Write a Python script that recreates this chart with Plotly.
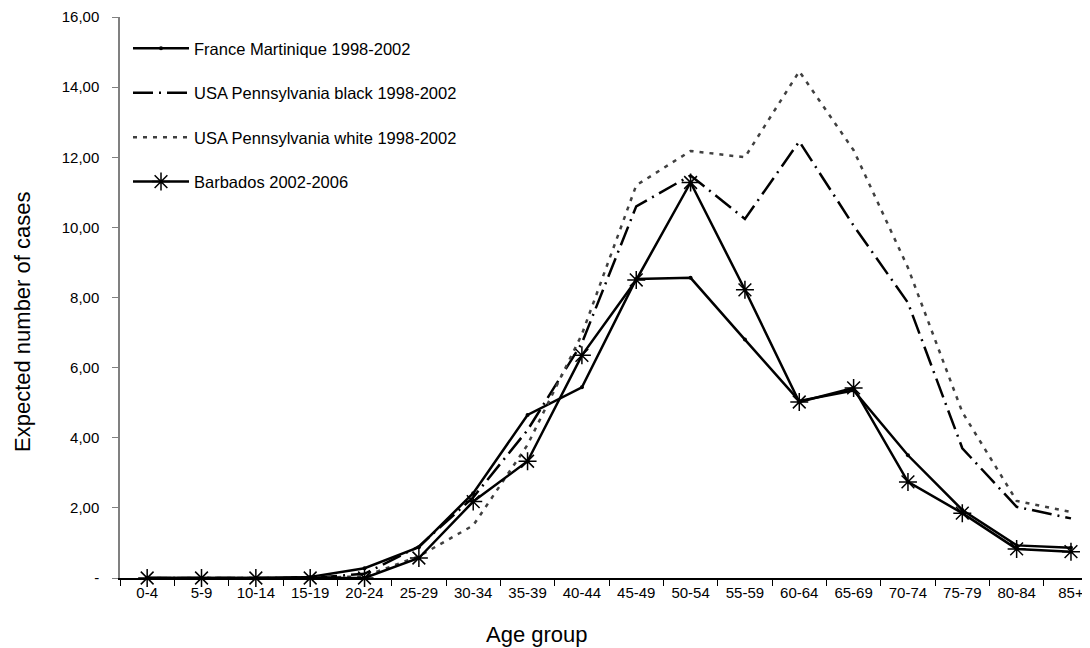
import plotly.graph_objects as go

age_groups = ["0-4", "5-9", "10-14", "15-19", "20-24", "25-29", "30-34", "35-39", "40-44",
              "45-49", "50-54", "55-59", "60-64", "65-69", "70-74", "75-79", "80-84", "85+"]

france_martinique = [0, 0, 0, 0.03, 0.28, 0.88, 2.42, 4.65, 5.44, 8.53, 8.56, 6.80, 5.05, 5.35, 3.50, 1.94, 0.93, 0.86]
penn_black = [0, 0, 0, 0, 0.12, 0.90, 2.30, 4.22, 6.70, 10.60, 11.48, 10.24, 12.45, 10.05, 7.85, 3.70, 2.03, 1.70]
penn_white = [0, 0, 0, 0, 0.05, 0.62, 1.50, 3.80, 6.95, 11.20, 12.18, 12.00, 14.45, 12.20, 8.85, 4.73, 2.20, 1.88]
barbados = [0, 0, 0, 0, 0, 0.57, 2.18, 3.33, 6.35, 8.50, 11.28, 8.22, 5.02, 5.42, 2.74, 1.85, 0.83, 0.75]

y_ticks = [0, 2, 4, 6, 8, 10, 12, 14, 16]
y_ticktext = ["-", "2,00", "4,00", "6,00", "8,00", "10,00", "12,00", "14,00", "16,00"]

FONT = "Liberation Sans, Arial, sans-serif"

# la page html a une marge de 8 px : on décale tout d'autant
OFF = 8
W, H = 1090 - OFF, 648 - OFF
L, T = 120 - OFF, 17 - OFF
PLOT_W, PLOT_H = W - L, 578 - 17


def to_paper(px_x, px_y):
    # pixels de la page -> coordonnées papier
    return (px_x - OFF - L) / PLOT_W, 1 - (px_y - OFF - T) / PLOT_H


fig = go.Figure()

fig.add_trace(go.Scatter(
    x=age_groups, y=france_martinique, name="France Martinique 1998-2002",
    mode="lines+markers", legendgroup="a", cliponaxis=False,
    line=dict(color="black", width=2.5),
    marker=dict(symbol="circle", size=4, color="black"),
))
fig.add_trace(go.Scatter(
    x=age_groups, y=penn_black, name="USA Pennsylvania black 1998-2002",
    mode="lines", legendgroup="b", cliponaxis=False,
    line=dict(color="black", width=2.5, dash="20px,6px,2px,6px"),
))
fig.add_trace(go.Scatter(
    x=age_groups, y=penn_white, name="USA Pennsylvania white 1998-2002",
    mode="lines", legendgroup="c", cliponaxis=False,
    line=dict(color="#404040", width=2.5, dash="4px,6px"),
))
fig.add_trace(go.Scatter(
    x=age_groups, y=barbados, name="Barbados 2002-2006",
    mode="lines+markers", legendgroup="d", cliponaxis=False,
    line=dict(color="black", width=2.5),
    marker=dict(symbol="asterisk-open", size=15, color="black", line=dict(color="black", width=1.5)),
))

lx, ly = to_paper(128, 31)
tx, ty = to_paper(22, 322)
ax, ay = to_paper(537, 634)

fig.update_layout(
    width=W, height=H,
    paper_bgcolor="white", plot_bgcolor="white",
    font=dict(family=FONT, color="black", size=15),
    margin=dict(l=L, r=0, t=T, b=H - T - PLOT_H, autoexpand=False),
    showlegend=True,
    legend=dict(
        x=lx, y=ly, xanchor="left", yanchor="top",
        font=dict(size=16.5, family=FONT), bgcolor="rgba(0,0,0,0)",
        traceorder="grouped", tracegroupgap=20, itemwidth=56,
    ),
    annotations=[
        dict(text="Expected number of cases", x=tx, y=ty, xref="paper", yref="paper",
             xanchor="center", yanchor="middle",
             showarrow=False, textangle=-90, font=dict(size=22, family=FONT)),
        dict(text="Age group", x=ax, y=ay, xref="paper", yref="paper",
             xanchor="center", yanchor="middle",
             showarrow=False, font=dict(size=22, family=FONT)),
    ],
)

fig.update_xaxes(
    type="category", range=[-0.5, 17.35], automargin=False,
    showline=True, linecolor="black", linewidth=1.5,
    ticks="outside", tickson="boundaries", ticklen=6, tickcolor="black", tickwidth=1,
    showgrid=False, zeroline=False, tickfont=dict(size=15),
)
fig.update_yaxes(
    range=[0, 16], tickvals=y_ticks, ticktext=y_ticktext, automargin=False,
    showline=True, linecolor="#808080", linewidth=1.5,
    ticks="outside", ticklen=6, tickcolor="#808080", tickwidth=1,
    showgrid=False, zeroline=False, tickfont=dict(size=15),
    ticklabelstandoff=10,
)

fig.write_html("out.html")
